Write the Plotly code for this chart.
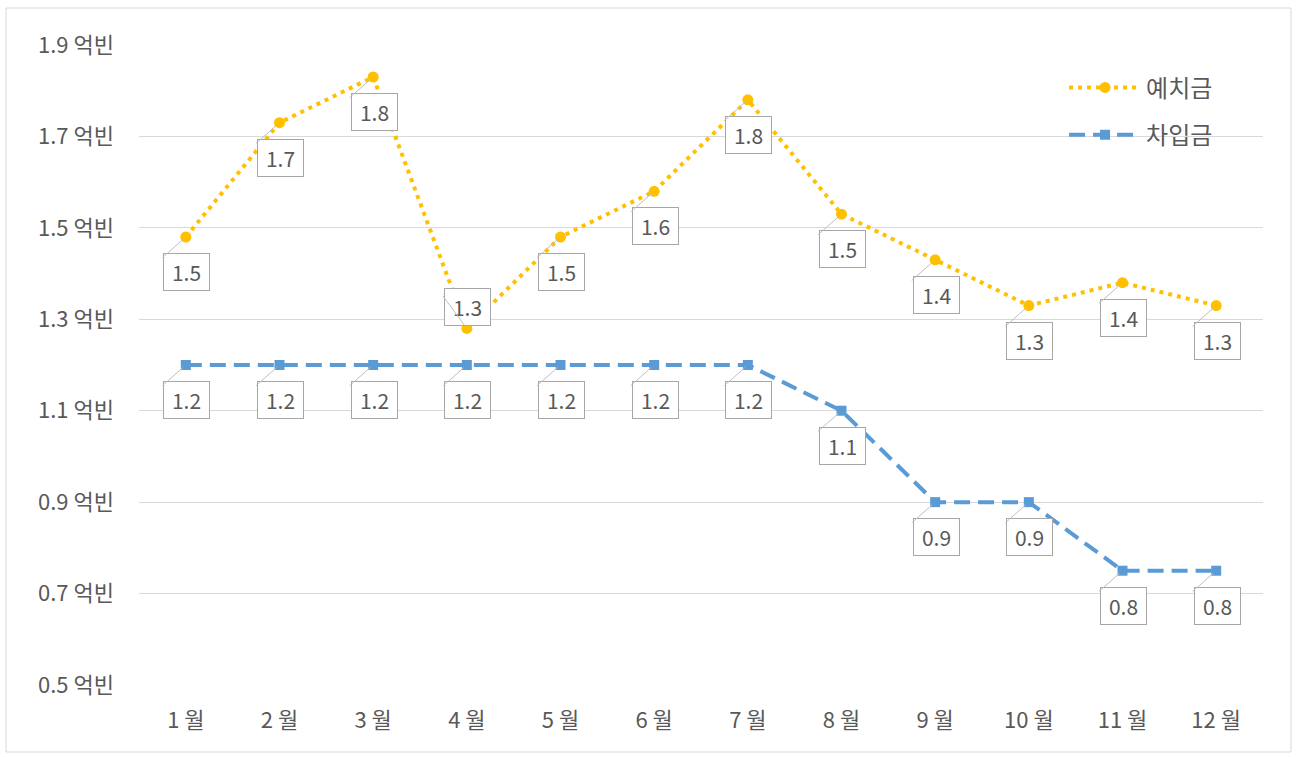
import plotly.graph_objects as go

months = ["1 월", "2 월", "3 월", "4 월", "5 월", "6 월", "7 월", "8 월", "9 월", "10 월", "11 월", "12 월"]
deposit = [1.48, 1.73, 1.83, 1.28, 1.48, 1.58, 1.78, 1.53, 1.43, 1.33, 1.38, 1.33]
loan = [1.2, 1.2, 1.2, 1.2, 1.2, 1.2, 1.2, 1.1, 0.9, 0.9, 0.75, 0.75]
yticks = [0.5, 0.7, 0.9, 1.1, 1.3, 1.5, 1.7, 1.9]

GOLD = "#FFC000"
BLUE = "#5B9BD5"
TXT = "#595959"
FONT = "Noto Sans CJK KR"

fig = go.Figure()
fig.add_trace(go.Scatter(
    x=months, y=deposit, name="예치금", mode="lines+markers",
    line=dict(color=GOLD, width=4, dash="4px,5px"),
    marker=dict(symbol="circle", size=11, color=GOLD),
    legend="legend",
))
fig.add_trace(go.Scatter(
    x=months, y=loan, name="차입금", mode="lines+markers",
    line=dict(color=BLUE, width=4, dash="16px,8px"),
    marker=dict(symbol="square", size=10, color=BLUE),
    legend="legend2",
))

annotations = []
def add_labels(values, above_idx=()):
    for i, (m, v) in enumerate(zip(months, values)):
        above = i in above_idx
        annotations.append(dict(
            x=m, y=v, xref="x", yref="y", text=f"{v:.1f}",
            showarrow=False, xshift=1, yshift=(21 if above else -35),
            bgcolor="white", bordercolor="#A6A6A6", borderwidth=1,
            width=37, height=28, borderpad=4,
            font=dict(family=FONT, size=21, color=TXT),
        ))
    for i, (m, v) in enumerate(zip(months, values)):
        above = i in above_idx
        annotations.append(dict(
            x=m, y=v, xref="x", yref="y", text="",
            showarrow=True, arrowhead=0, arrowwidth=1, arrowcolor="#BFBFBF",
            ax=-25, ay=(-34 if above else 22), standoff=4,
        ))

add_labels(deposit, above_idx=(3,))
add_labels(loan)

fig.update_layout(
    width=1296, height=757,
    margin=dict(l=139, r=33, t=45, b=72),
    paper_bgcolor="white", plot_bgcolor="white",
    font=dict(family=FONT, size=21, color=TXT),
    annotations=annotations,
    showlegend=True,
    legend=dict(x=0.823, y=0.933, xanchor="left", yanchor="middle",
                font=dict(family=FONT, size=24, color=TXT), itemwidth=72,
                bgcolor="rgba(0,0,0,0)"),
    legend2=dict(x=0.823, y=0.859, xanchor="left", yanchor="middle",
                 font=dict(family=FONT, size=24, color=TXT), itemwidth=72,
                 bgcolor="rgba(0,0,0,0)"),
    shapes=[dict(type="rect", xref="paper", yref="paper",
                 x0=(6 - 139) / 1124, x1=(1291 - 139) / 1124,
                 y0=(685 - 752) / 640, y1=(685 - 8) / 640,
                 line=dict(color="#D9D9D9", width=1), layer="below")],
)
fig.update_xaxes(
    type="category", range=[-0.5, 11.5], showgrid=False, zeroline=False, showline=False,
    ticks="", ticklabelstandoff=20, tickfont=dict(size=22, color=TXT),
)
fig.update_yaxes(
    range=[0.5, 1.9], tickvals=yticks, ticktext=[f"{t:.1f} 억빈" for t in yticks],
    showgrid=True, gridcolor="#D9D9D9", gridwidth=1, zeroline=False, showline=False,
    ticks="", ticklabelstandoff=24, tickfont=dict(size=22, color=TXT),
)

fig.write_html("out.html", config={"displayModeBar": False},
               post_script="document.body.style.margin='0px';")
